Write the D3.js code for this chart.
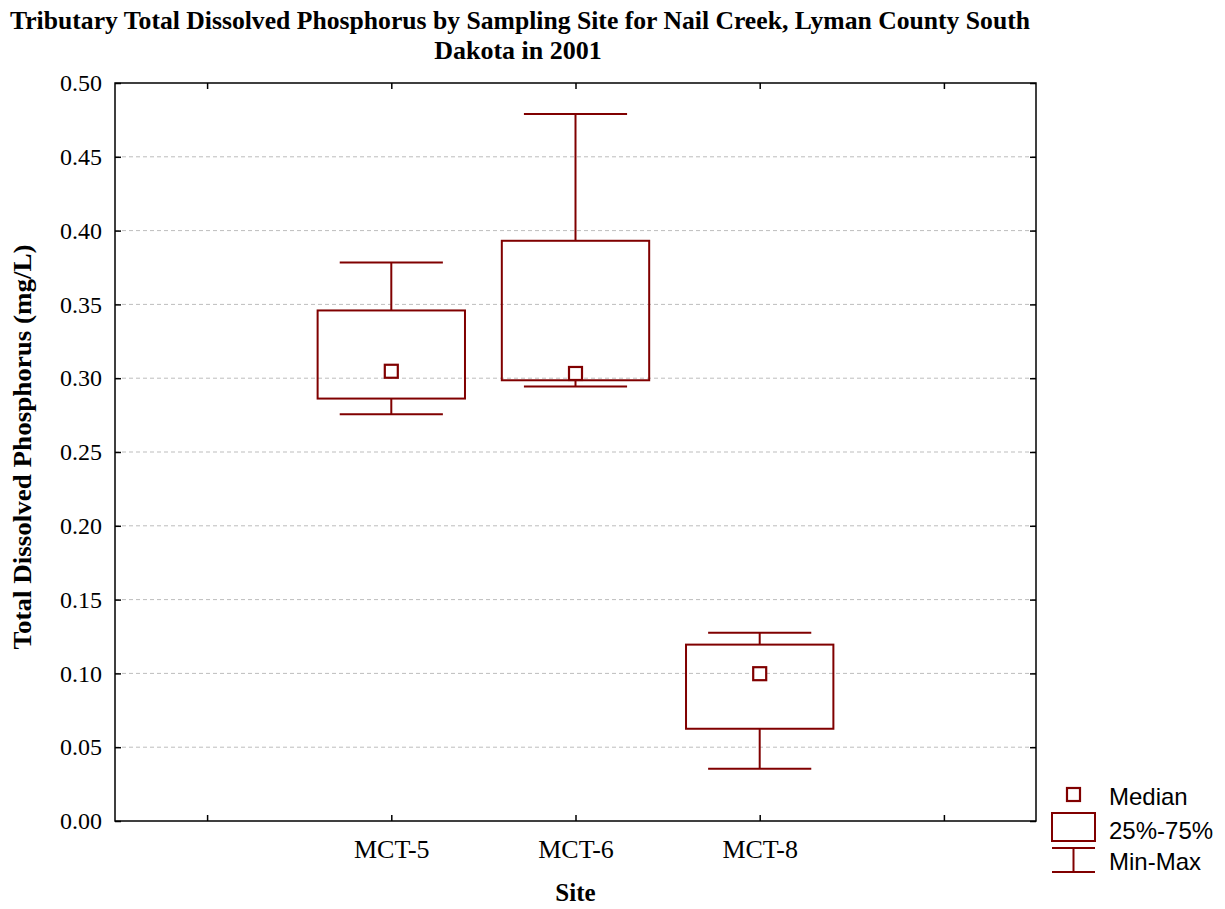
<!DOCTYPE html>
<html>
<head>
<meta charset="utf-8">
<script src="https://cdn.jsdelivr.net/npm/d3@7"></script>
<style>
  body { margin: 0; background: #fff; }
  svg { display: block; }
</style>
</head>
<body>
<div id="chart"></div>
<script>
// Box plot data
var sites  = ["MCT-5", "MCT-6", "MCT-8"];
var minVal = [0.2756, 0.2944, 0.0354];
var q1Val  = [0.2862, 0.2986, 0.0625];
var medVal = [0.3047, 0.3032, 0.0998];
var q3Val  = [0.3459, 0.3931, 0.1195];
var maxVal = [0.3784, 0.4790, 0.1276];
var yTicks = [0, 0.05, 0.10, 0.15, 0.20, 0.25, 0.30, 0.35, 0.40, 0.45, 0.50];
var legendLabels = ["Median", "25%-75%", "Min-Max"];

var svgWidth = 1225, svgHeight = 909;
var margin = { top: 83, right: 189, bottom: 88, left: 115 };
var width = svgWidth - margin.left - margin.right;
var height = svgHeight - margin.top - margin.bottom;
var col = "#800000";
var serif = "'Liberation Serif', 'Times New Roman', serif";
var sans = "'Liberation Sans', Arial, sans-serif";

var svg = d3.select("#chart").append("svg")
  .attr("width", svgWidth)
  .attr("height", svgHeight);

var g = svg.append("g")
  .attr("transform", "translate(" + margin.left + "," + margin.top + ")");

// x: one empty slot on each side of the sites
var slots = ["pad0"].concat(sites, ["pad1"]);
var x = d3.scalePoint().domain(slots).range([0, width]).padding(0.5);
var y = d3.scaleLinear().domain([0, 0.5]).range([height, 0]);
var step = x.step();

// grid
g.selectAll(".grid").data(yTicks.slice(1, -1)).enter().append("line")
  .attr("x1", 0).attr("x2", width)
  .attr("y1", function (d) { return y(d); })
  .attr("y2", function (d) { return y(d); })
  .attr("stroke", "#bdbdbd")
  .attr("stroke-width", 1)
  .attr("stroke-dasharray", "4,3");

// axes (ticks point inward)
var fmt = d3.format(".2f");
var yAxis = g.append("g")
  .call(d3.axisLeft(y).tickValues(yTicks).tickFormat(fmt).tickSize(-6).tickPadding(13));
var yAxisR = g.append("g").attr("transform", "translate(" + width + ",0)")
  .call(d3.axisRight(y).tickValues(yTicks).tickFormat("").tickSize(-6));
var xAxis = g.append("g").attr("transform", "translate(0," + height + ")")
  .call(d3.axisBottom(x).tickFormat(function (d) { return d.indexOf("pad") === 0 ? "" : d; })
    .tickSize(-6).tickPadding(19));
var xAxisT = g.append("g")
  .call(d3.axisTop(x).tickFormat("").tickSize(-6));

[yAxis, yAxisR, xAxis, xAxisT].forEach(function (a) {
  a.select(".domain").remove();
  a.selectAll(".tick line").attr("stroke", "#000").attr("stroke-width", 1.5);
  a.selectAll("text").attr("font-family", serif).attr("font-size", 24).attr("fill", "#000");
});
xAxis.selectAll("text").attr("font-size", 26);

// frame
g.append("rect")
  .attr("width", width).attr("height", height)
  .attr("fill", "none").attr("stroke", "#000").attr("stroke-width", 1.5);

// boxes
var boxW = step * 0.8, capW = step * 0.56, medS = 13;
var boxes = g.selectAll(".box").data(sites).enter().append("g")
  .attr("transform", function (d) { return "translate(" + x(d) + ",0)"; });

boxes.append("line") // whisker up
  .attr("y1", function (d, i) { return y(q3Val[i]); })
  .attr("y2", function (d, i) { return y(maxVal[i]); });
boxes.append("line") // whisker down
  .attr("y1", function (d, i) { return y(q1Val[i]); })
  .attr("y2", function (d, i) { return y(minVal[i]); });
boxes.append("line") // max cap
  .attr("x1", -capW / 2).attr("x2", capW / 2)
  .attr("y1", function (d, i) { return y(maxVal[i]); })
  .attr("y2", function (d, i) { return y(maxVal[i]); });
boxes.append("line") // min cap
  .attr("x1", -capW / 2).attr("x2", capW / 2)
  .attr("y1", function (d, i) { return y(minVal[i]); })
  .attr("y2", function (d, i) { return y(minVal[i]); });
boxes.selectAll("line").attr("stroke", col).attr("stroke-width", 2);

boxes.append("rect")
  .attr("x", -boxW / 2).attr("width", boxW)
  .attr("y", function (d, i) { return y(q3Val[i]); })
  .attr("height", function (d, i) { return y(q1Val[i]) - y(q3Val[i]); })
  .attr("fill", "none").attr("stroke", col).attr("stroke-width", 2);

boxes.append("rect")
  .attr("x", -medS / 2).attr("width", medS)
  .attr("y", function (d, i) { return y(medVal[i]) - medS / 2; })
  .attr("height", medS)
  .attr("fill", "#fff").attr("stroke", col).attr("stroke-width", 2.2);

// titles
var title = svg.append("text")
  .attr("text-anchor", "middle")
  .attr("font-family", serif).attr("font-weight", "bold").attr("font-size", 26);
title.append("tspan").attr("x", 520).attr("y", 29)
  .attr("textLength", 1020).attr("lengthAdjust", "spacingAndGlyphs")
  .text("Tributary Total Dissolved Phosphorus by Sampling Site for Nail Creek, Lyman County South");
title.append("tspan").attr("x", 518).attr("y", 59).text("Dakota in 2001");

svg.append("text")
  .attr("x", margin.left + width / 2).attr("y", 901)
  .attr("text-anchor", "middle")
  .attr("font-family", serif).attr("font-weight", "bold").attr("font-size", 25)
  .text("Site");

svg.append("text")
  .attr("transform", "translate(31," + 447 + ") rotate(-90)")
  .attr("text-anchor", "middle")
  .attr("font-family", serif).attr("font-weight", "bold").attr("font-size", 26)
  .attr("textLength", 405).attr("lengthAdjust", "spacingAndGlyphs")
  .text("Total Dissolved Phosphorus (mg/L)");

// legend
var lg = svg.append("g").attr("transform", "translate(1052,788)");
lg.append("rect").attr("x", 15).attr("y", 0).attr("width", 13).attr("height", 13)
  .attr("fill", "#fff").attr("stroke", col).attr("stroke-width", 2.2);
lg.append("rect").attr("x", 0).attr("y", 25).attr("width", 43).attr("height", 28)
  .attr("fill", "none").attr("stroke", col).attr("stroke-width", 2);
lg.append("line").attr("x1", 0).attr("x2", 43).attr("y1", 60).attr("y2", 60);
lg.append("line").attr("x1", 0).attr("x2", 43).attr("y1", 84).attr("y2", 84);
lg.append("line").attr("x1", 21.5).attr("x2", 21.5).attr("y1", 60).attr("y2", 84);
lg.selectAll("line").attr("stroke", col).attr("stroke-width", 2);
lg.selectAll(".lt").data(legendLabels).enter().append("text")
  .attr("x", 57)
  .attr("y", function (d, i) { return [17, 51, 82][i]; })
  .attr("font-family", sans).attr("font-size", 24).attr("fill", "#000")
  .text(function (d) { return d; });
</script>
</body>
</html>
